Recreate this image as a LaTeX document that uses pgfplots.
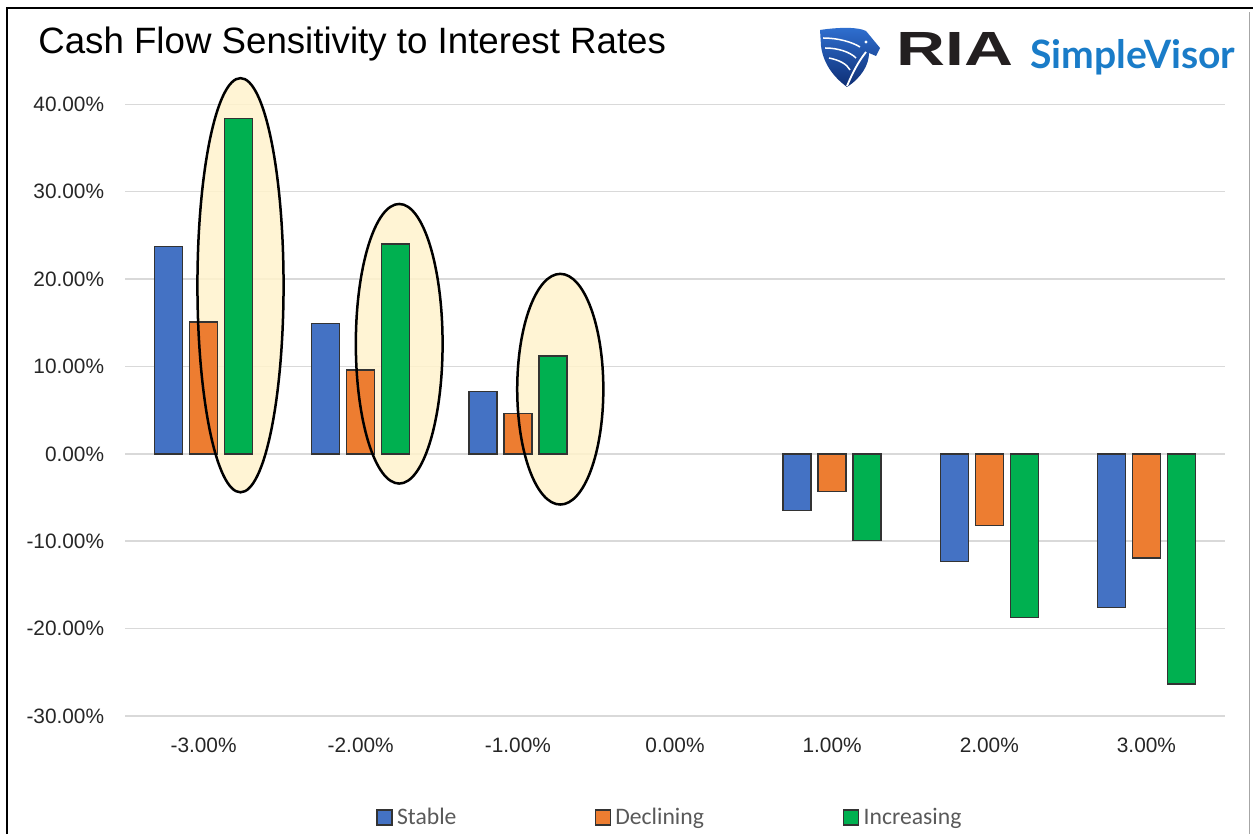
\documentclass[border=0pt]{standalone}
\usepackage{pgfplots}
\pgfplotsset{compat=1.18}
\usepackage{fontspec}
\setmainfont{Liberation Sans}
\newfontfamily\carlito{Carlito}
\newfontfamily\lato{Lato}
\definecolor{cblue}{HTML}{4472C4}
\definecolor{corange}{HTML}{ED7D31}
\definecolor{cgreen}{HTML}{00B050}
\definecolor{ellfill}{HTML}{FFF2CC}
\definecolor{gridc}{HTML}{D9D9D9}
\definecolor{ticktext}{HTML}{262626}
\definecolor{svblue}{HTML}{1A7CC8}
\definecolor{riablack}{HTML}{231F20}
\definecolor{shieldA}{HTML}{2F6FD0}
\definecolor{shieldB}{HTML}{0E2E74}
\definecolor{legtext}{HTML}{595959}

\pgfplotstableread{
x y
0 23.7
1 14.95
2 7.1
4 -6.5
5 -12.3
6 -17.6
}\stable
\pgfplotstableread{
x y
0 15.1
1 9.6
2 4.6
4 -4.3
5 -8.2
6 -11.9
}\declining
\pgfplotstableread{
x y
0 38.4
1 24.0
2 11.2
4 -9.9
5 -18.7
6 -26.35
}\increasing

\begin{document}
\begin{tikzpicture}
\path[use as bounding box] (0,0) rectangle (751.8pt,500.4pt);
% frame
\draw[black, line width=1.2pt] (4.2pt,0) -- (4.2pt,495.6pt) -- (751.8pt,495.6pt);
\draw[gray!70, line width=0.6pt] (749.4pt,0) -- (749.4pt,493pt);
\begin{axis}[
 at={(75pt,70.8pt)}, anchor=south west, scale only axis,
 width=660pt, height=367pt,
 xmin=-0.5, xmax=6.5, ymin=-30, ymax=40,
 ybar=4.2pt, bar width=16.8pt,
 xtick={0,...,6},
 xticklabels={-3.00\%,-2.00\%,-1.00\%,0.00\%,1.00\%,2.00\%,3.00\%},
 ytick={-30,-20,...,40},
 yticklabels={-30.00\%,-20.00\%,-10.00\%,0.00\%,10.00\%,20.00\%,30.00\%,40.00\%},
 axis line style={draw=none}, major tick length=0pt,
 ymajorgrids, grid style={draw=gridc, line width=0.9pt},
 tick label style={font=\fontsize{12.5}{14}\selectfont, text=ticktext},
 xticklabel style={yshift=-9.5pt},
 yticklabel style={xshift=-9pt},
 clip=false,
 legend columns=3,
 legend style={draw=none, fill=none, inner sep=0pt, at={(0.2282,-0.1659)}, anchor=west,
   font=\carlito\fontsize{14.2}{16}\selectfont, text=legtext,
   nodes={inner sep=0pt},
   /tikz/every even column/.append style={column sep=0pt},
   /tikz/every odd column/.append style={column sep=0pt}},
 legend image code/.code={\draw[#1, line width=0.8pt] (0pt,-4.5pt) rectangle (9pt,4.5pt); \path (11.6pt,0pt);},
]
% ellipse fills (behind bars)
\fill[ellfill, fill opacity=0.85] (axis cs:0.235,19.3) ellipse [x radius=0.274, y radius=23.7];
\fill[ellfill, fill opacity=0.85] (axis cs:1.245,12.6) ellipse [x radius=0.276, y radius=16.0];
\fill[ellfill, fill opacity=0.85] (axis cs:2.27,7.4) ellipse [x radius=0.274, y radius=13.2];

\addplot[fill=cblue, draw=black!80, line width=0.8pt] table[x=x,y=y] {\stable};
\addlegendentry{\makebox[118.6pt][l]{Stable}}
\addplot[fill=corange, draw=black!80, line width=0.8pt] table[x=x,y=y] {\declining};
\addlegendentry{\makebox[136.6pt][l]{Declining}}
\addplot[fill=cgreen, draw=black!80, line width=0.8pt] table[x=x,y=y] {\increasing};
\addlegendentry{Increasing}

% ellipse outlines
\draw[black, line width=1.5pt] (axis cs:0.235,19.3) ellipse [x radius=0.274, y radius=23.7];
\draw[black, line width=1.5pt] (axis cs:1.245,12.6) ellipse [x radius=0.276, y radius=16.0];
\draw[black, line width=1.5pt] (axis cs:2.27,7.4) ellipse [x radius=0.274, y radius=13.2];
\end{axis}

\begin{scope}[yshift=500.4pt, x=0.6pt, y=-0.6pt]
% title
\node[anchor=base west, inner sep=0pt, font=\fontsize{22}{26}\selectfont] at (38,54) {Cash Flow Sensitivity to Interest Rates};
% logo shield
\shade[top color=shieldA, bottom color=shieldB]
  (820,30) .. controls (840,27) and (858,27) .. (866,31) -- (880,48) -- (876,56) -- (869,53)
  .. controls (869,65) and (861,78) .. (847,87) .. controls (832,76) and (823,62) .. (821,46) -- cycle;
\draw[white, line width=0.9pt] (823,38) .. controls (838,38) and (852,42) .. (860,47);
\draw[white, line width=0.9pt] (825,48) .. controls (838,48) and (850,52) .. (856,58);
\draw[white, line width=0.9pt] (829,58) .. controls (839,60) and (847,64) .. (850,70);
\draw[white, line width=1.1pt] (866,52) .. controls (858,62) and (852,74) .. (847,86);
\fill[white] (866,42) circle (1.6);
% RIA
\node[anchor=north west, inner sep=0pt, text=riablack] at (896,32) {\resizebox{70pt}{19.8pt}{\bfseries RIA}};
% SimpleVisor
\node[anchor=base west, inner sep=0pt, text=svblue] at (1030,69) {\resizebox{123pt}{!}{\lato\bfseries SimpleVisor}};
\end{scope}
\end{tikzpicture}
\end{document}
